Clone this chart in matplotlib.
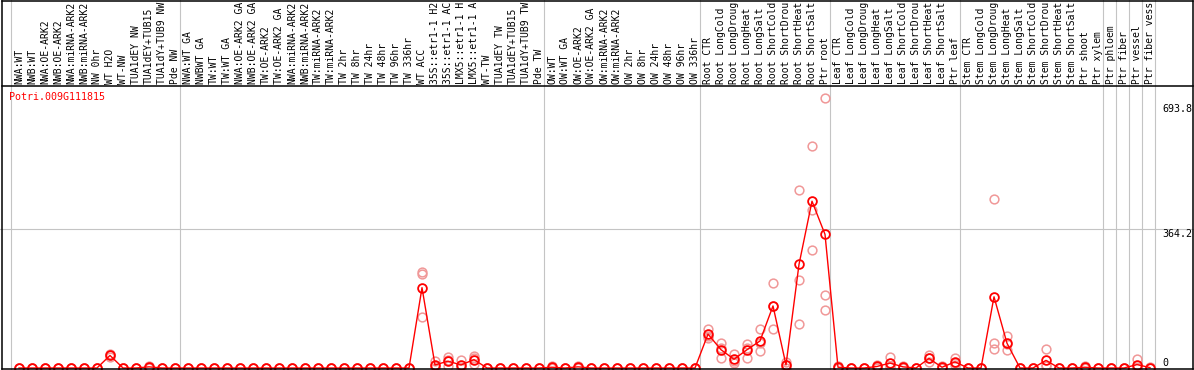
import matplotlib
matplotlib.use("Agg")
import matplotlib.pyplot as plt
import matplotlib.transforms as mtransforms
import numpy as np

# ---------------- data ----------------
gene = "Potri.009G111815"

labels = [
    # group 1
    "NWA:WT", "NWB:WT", "NWA:OE-ARK2", "NWB:OE-ARK2", "NWA:miRNA-ARK2", "NWB:miRNA-ARK2",
    "NW 0hr", "WT H2O", "WT-NW", "TUA1dEY NW", "TUA1dEY+TUB15", "TUA1dY+TUB9 NW", "Pde NW",
    # group 2
    "NWA:WT GA", "NWBWT GA", "TW:WT", "TW:WT GA", "NWA:OE-ARK2 GA", "NWB:OE-ARK2 GA",
    "TW:OE-ARK2", "TW:OE-ARK2 GA", "NWA:miRNA-ARK2", "NWB:miRNA-ARK2", "TW:miRNA-ARK2",
    "TW:miRNA-ARK2", "TW 2hr", "TW 8hr", "TW 24hr", "TW 48hr", "TW 96hr", "TW 336hr",
    "WT ACC", "35S::etr1-1 H2", "35S::etr1-1 AC", "LMX5::etr1-1 H", "LMX5::etr1-1 A",
    "WT-TW", "TUA1dEY TW", "TUA1dEY+TUB15", "TUA1dY+TUB9 TW", "Pde TW",
    # group 3
    "OW:WT", "OW:WT GA", "OW:OE-ARK2", "OW:OE-ARK2 GA", "OW:miRNA-ARK2", "OW:miRNA-ARK2",
    "OW 2hr", "OW 8hr", "OW 24hr", "OW 48hr", "OW 96hr", "OW 336hr",
    # root
    "Root CTR", "Root LongCold", "Root LongDroug", "Root LongHeat", "Root LongSalt",
    "Root ShortCold", "Root ShortDrou", "Root ShortHeat", "Root ShortSalt", "Ptr root",
    # leaf
    "Leaf CTR", "Leaf LongCold", "Leaf LongDroug", "Leaf LongHeat", "Leaf LongSalt",
    "Leaf ShortCold", "Leaf ShortDrou", "Leaf ShortHeat", "Leaf ShortSalt", "Ptr leaf",
    # stem
    "Stem CTR", "Stem LongCold", "Stem LongDroug", "Stem LongHeat", "Stem LongSalt",
    "Stem ShortCold", "Stem ShortDrou", "Stem ShortHeat", "Stem ShortSalt", "Ptr shoot",
    # tissues
    "Ptr xylem", "Ptr phloem", "Ptr fiber", "Ptr vessel", "Ptr fiber vess",
]

means = (
    [0, 0, 0, 0, 0, 0, 0, 33, 0, 0, 3, 0, 0]
    + [0, 0, 0, 0, 0, 0, 0, 0, 0, 0, 0, 0, 0, 0, 0, 0, 0, 0,
       211, 8, 18, 8, 22, 0, 0, 0, 0, 0]
    + [2, 0, 3, 0, 0, 0, 0, 0, 0, 0, 0, 0]
    + [89, 48, 23, 48, 71, 163, 8, 272, 438, 351]
    + [2, 0, 0, 4, 13, 3, 0, 25, 2, 16]
    + [0, 0, 187, 65, 0, 0, 20, 0, 0, 2]
    + [0, 0, 0, 9, 1]
)

rep1 = (
    [0, 0, 0, 0, 0, 0, 0, 36, 0, 0, 5, 0, 0]
    + [0, 0, 0, 0, 0, 0, 0, 0, 0, 0, 0, 0, 0, 0, 0, 0, 0, 0,
       252, 18, 29, 21, 31, 0, 0, 0, 0, 0]
    + [4, 0, 6, 0, 0, 0, 0, 0, 0, 0, 0, 0]
    + [102, 65, 36, 64, 102, 224, 16, 467, 583, 709]
    + [4, 0, 0, 8, 30, 6, 0, 35, 4, 27]
    + [0, 0, 445, 85, 0, 0, 49, 0, 0, 5]
    + [0, 0, 0, 23, 2]
)

rep2 = (
    [0, 0, 0, 0, 0, 0, 0, 33, 0, 0, 3, 0, 0]
    + [0, 0, 0, 0, 0, 0, 0, 0, 0, 0, 0, 0, 0, 0, 0, 0, 0, 0,
       246, 5, 20, 3, 25, 0, 0, 0, 0, 0]
    + [1, 0, 2, 0, 0, 0, 0, 0, 0, 0, 0, 0]
    + [85, 52, 19, 53, 66, 163, 7, 231, 416, 192]
    + [1, 0, 0, 3, 6, 2, 0, 25, 1, 12]
    + [0, 0, 65, 63, 0, 0, 8, 0, 0, 1]
    + [0, 0, 0, 3, 1]
)

rep3 = (
    [0, 0, 0, 0, 0, 0, 0, 30, 0, 0, 1, 0, 0]
    + [0, 0, 0, 0, 0, 0, 0, 0, 0, 0, 0, 0, 0, 0, 0, 0, 0, 0,
       134, 1, 5, 0, 10, 0, 0, 0, 0, 0]
    + [1, 0, 1, 0, 0, 0, 0, 0, 0, 0, 0, 0]
    + [80, 26, 14, 26, 45, 102, 1, 115, 311, 152]
    + [0, 0, 0, 1, 3, 1, 0, 15, 1, 9]
    + [0, 0, 50, 47, 0, 0, 4, 0, 0, 0]
    + [0, 0, 0, 1, 0]
)

ytick_values = [693.8, 364.2, 0]
ytick_labels = ["693.8", "364.2", "0"]
separators_after = [13, 41, 53, 63, 73, 84, 85, 86, 87, 88]

# ---------------- layout ----------------
W, H = 1194, 370
fig = plt.figure(figsize=(W / 100, H / 100), dpi=100)
fig.patch.set_facecolor("white")
ax = fig.add_axes([0, 0, 1, 1])
ax.axis("off")

x0px, dx = 19.0, 13.0          # pixel of first column, pixel step
base_px, scale = 368.0, 0.3808  # pixel row of value 0, pixels per unit
ax.set_xlim(-x0px / dx, (W - x0px) / dx)
ax.set_ylim(-(H - base_px) / scale, base_px / scale)

mono = "DejaVu Sans Mono"
grid_c = "#c4c4c4"
x = np.arange(len(labels))

# grid lines
ax.axvline(-8.0 / dx, color=grid_c, lw=0.8, zorder=1)
for k in separators_after:
    ax.axvline(k - 1 + 0.42, color=grid_c, lw=0.8, zorder=1)
ax.axhline(ytick_values[1], color=grid_c, lw=0.8, zorder=1)

# borders
def hline_px(ypx, x1=1.5, x2=W - 1.5):
    ax.plot([x1 / W, x2 / W], [1 - ypx / H, 1 - ypx / H], color="black",
            lw=1.1, transform=ax.transAxes, clip_on=False, zorder=5)

def vline_px(xpx, y1=0.5, y2=369):
    ax.plot([xpx / W, xpx / W], [1 - y1 / H, 1 - y2 / H], color="black",
            lw=1.1, transform=ax.transAxes, clip_on=False, zorder=5)

hline_px(0.5)
hline_px(85.5)
hline_px(369.0)
vline_px(1.5)
vline_px(W - 1.5)

# header labels
xtrans = ax.get_xaxis_transform()
for i, lab in enumerate(labels):
    ax.text(i, 1 - 83.5 / H, lab, transform=xtrans, rotation=90,
            ha="center", va="bottom", fontsize=7, family=mono, color="black",
            zorder=6)

# gene name
ax.text(9 / W, 1 - 97 / H, gene, transform=ax.transAxes, color="red",
        fontsize=7.2, family=mono, ha="left", va="center", zorder=6)

# right value labels
btrans = mtransforms.blended_transform_factory(ax.transAxes, ax.transData)
for val, lab in zip(ytick_values, ytick_labels):
    va = "bottom" if val == 0 else "top"
    ax.text(1162 / W, val, lab, transform=btrans, ha="left", va=va,
            fontsize=7.2, family=mono, color="black", zorder=6)

# replicates
for reps in (rep1, rep2, rep3):
    ax.plot(x, reps, linestyle="none", marker="o", ms=6.3, mfc="none",
            mec="#f09898", mew=1.1, zorder=3)

# mean line + markers
ax.plot(x, means, color="red", lw=1.0, zorder=4)
ax.plot(x, means, linestyle="none", marker="o", ms=6.3, mfc="none",
        mec="red", mew=1.3, zorder=4)

fig.savefig("out.png", dpi=100)
